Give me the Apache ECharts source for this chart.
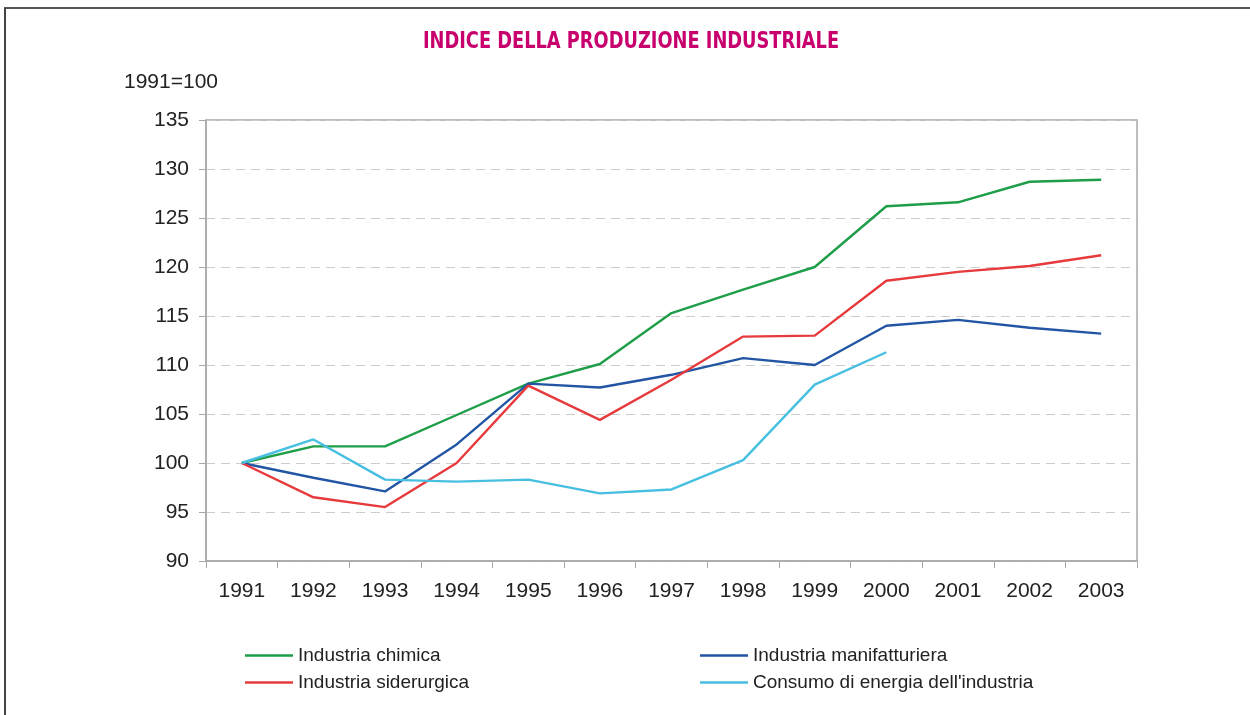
<!DOCTYPE html>
<html><head><meta charset="utf-8">
<script src="https://cdn.jsdelivr.net/npm/echarts@6/dist/echarts.min.js"></script>
<style>html,body{margin:0;padding:0;background:#fff}#c{width:1250px;height:715px}</style>
</head><body><div id="c"></div>
<script>
const years = ['1991','1992','1993','1994','1995','1996','1997','1998','1999','2000','2001','2002','2003'];
const chimica = [100,101.7,101.7,104.9,108.1,110.1,115.3,117.7,120.0,126.2,126.6,128.7,128.9];
const manifatturiera = [100,98.5,97.1,101.9,108.1,107.7,109.0,110.7,110.0,114.0,114.6,113.8,113.2];
const siderurgica = [100,96.5,95.5,100.0,107.9,104.4,108.5,112.9,113.0,118.6,119.5,120.1,121.2];
const consumo = [100,102.4,98.3,98.1,98.3,96.9,97.3,100.3,108.0,111.3,null,null,null];
const yTicks = [90,95,100,105,110,115,120,125,130,135];

const font = 'Liberation Sans, Arial, Helvetica, sans-serif';
const colors = {chim:'#1e9e48', man:'#2255a4', sid:'#e63a3c', con:'#47bfe0'};
const chart = echarts.init(document.getElementById('c'));
function line(name, data, color){
  return {name, type:'line', data, symbol:'none', smooth:false, connectNulls:false,
    lineStyle:{color, width:2.4}, itemStyle:{color}};
}
chart.setOption({
  animation:false,
  backgroundColor:'#fff',
  graphic:[
    {type:'line', shape:{x1:4,y1:8,x2:1250,y2:8}, style:{stroke:'#555',lineWidth:2}},
    {type:'line', shape:{x1:5,y1:8,x2:5,y2:715}, style:{stroke:'#444',lineWidth:2}},
    {type:'text', x:631, y:42, scaleX:0.86, style:{text:'INDICE DELLA PRODUZIONE INDUSTRIALE', fontFamily:'DejaVu Sans Condensed, DejaVu Sans, sans-serif', fontWeight:'bold', fontSize:23, fill:'#c8006e', align:'center', verticalAlign:'middle'}},
    {type:'text', left:124, top:72, style:{text:'1991=100', font:'21px '+font, fill:'#222'}}
  ],
  grid:{left:206, right:113, top:120, bottom:154, show:true, borderColor:'#a8a8a8', borderWidth:1.5},
  legend:[
    {data:['Industria chimica','Industria siderurgica'], orient:'vertical', left:240, top:641, itemGap:8,
      icon:'rect', itemWidth:48, itemHeight:2.5, textStyle:{fontFamily:font, fontSize:19, color:'#222'}},
    {data:['Industria manifatturiera','Consumo di energia dell\'industria'], orient:'vertical', left:695, top:641, itemGap:8,
      icon:'rect', itemWidth:48, itemHeight:2.5, textStyle:{fontFamily:font, fontSize:19, color:'#222'}}
  ],
  xAxis:{type:'category', data:years, boundaryGap:true,
    axisLine:{lineStyle:{color:'#a8a8a8', width:1.5}},
    axisTick:{show:true, length:7, lineStyle:{color:'#a8a8a8'}, alignWithLabel:false},
    axisLabel:{fontFamily:font, fontSize:21, color:'#222', margin:20}},
  yAxis:{type:'value', min:90, max:135, interval:5,
    axisLine:{show:true, lineStyle:{color:'#a8a8a8', width:1.5}},
    axisTick:{show:true, length:7, lineStyle:{color:'#a8a8a8'}},
    axisLabel:{fontFamily:font, fontSize:21, color:'#222', margin:17,
      formatter:v=> yTicks.includes(v)? String(v):''},
    splitLine:{show:true, lineStyle:{color:'#cccccc', type:[9,6], width:1}}},
  series:[
    line('Industria chimica', chimica, colors.chim),
    line('Industria manifatturiera', manifatturiera, colors.man),
    line('Industria siderurgica', siderurgica, colors.sid),
    line('Consumo di energia dell\'industria', consumo, colors.con)
  ]
});
</script></body></html>
